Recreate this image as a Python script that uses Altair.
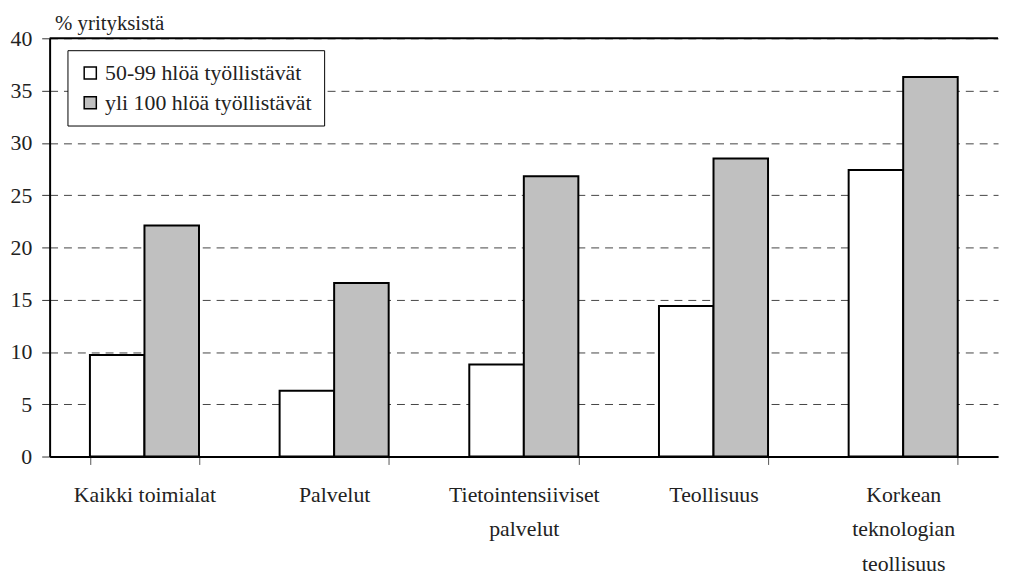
import altair as alt
import pandas as pd

categories = [
    "Kaikki toimialat",
    "Palvelut",
    "Tietointensiiviset|palvelut",
    "Teollisuus",
    "Korkean|teknologian|teollisuus",
]
series = ["50-99 hlöä työllistävät", "yli 100 hlöä työllistävät"]
values_50_99 = [9.7, 6.3, 8.8, 14.4, 27.4]
values_100 = [22.1, 16.6, 26.8, 28.5, 36.3]
y_ticks = [0, 5, 10, 15, 20, 25, 30, 35, 40]
y_title = "% yrityksistä"

rows = []
for c, a, b in zip(categories, values_50_99, values_100):
    rows.append({"ala": c, "ryhma": series[0], "arvo": a})
    rows.append({"ala": c, "ryhma": series[1], "arvo": b})
df = pd.DataFrame(rows)

FONT = "Liberation Serif"

bars = alt.Chart(df).mark_bar(stroke="black", strokeWidth=2).encode(
    x=alt.X(
        "ala:N",
        sort=categories,
        scale=alt.Scale(paddingInner=0.425, paddingOuter=0.2125),
        axis=alt.Axis(
            title=None,
            labelAngle=0,
            labelExpr="split(datum.label, '|')",
            labelFont=FONT,
            labelFontSize=22,
            labelLineHeight=35,
            labelPadding=20,
            labelBaseline="top",
            labelLimit=400,
            tickSize=8,
            tickColor="#555555",
            tickBand="extent",
            domainColor="black",
            domainWidth=2,
            grid=False,
        ),
    ),
    xOffset=alt.XOffset("ryhma:N", sort=series, scale=alt.Scale(paddingInner=0, paddingOuter=0)),
    y=alt.Y(
        "arvo:Q",
        scale=alt.Scale(domain=[0, 40], nice=False),
        axis=alt.Axis(
            values=y_ticks,
            title=y_title,
            titleAngle=0,
            titleAlign="left",
            titleBaseline="alphabetic",
            titleX=5,
            titleY=-9,
            titleFont=FONT,
            titleFontSize=21,
            labelFont=FONT,
            labelFontSize=22,
            labelPadding=10,
            tickSize=8,
            tickColor="#333333",
            domainColor="black",
            domainWidth=2,
            gridDash=[8, 6],
            gridColor="#444444",
            gridWidth=1,
            minExtent=40,
            maxExtent=40,
        ),
    ),
    fill=alt.Fill(
        "ryhma:N",
        sort=series,
        scale=alt.Scale(domain=series, range=["white", "#c0c0c0"]),
        legend=alt.Legend(
            title=None,
            orient="none",
            legendX=18,
            legendY=12,
            fillColor="white",
            strokeColor="black",
            padding=12,
            cornerRadius=0,
            labelFont=FONT,
            labelFontSize=22,
            labelLimit=500,
            symbolType="square",
            symbolSize=150,
            symbolStrokeColor="black",
            symbolStrokeWidth=1.5,
            rowPadding=8,
        ),
    ),
)

top_line = alt.Chart(pd.DataFrame({"y": [y_ticks[-1]]})).mark_rule(
    color="black", strokeWidth=2
).encode(y="y:Q")

chart = (
    alt.layer(bars, top_line)
    .properties(width=957, height=422, padding=2)
    .configure(font=FONT)
    .configure_axis(labelColor="#222222", titleColor="#222222", titleFontWeight="normal")
    .configure_legend(labelColor="#222222")
    .configure_view(strokeWidth=0)
)

chart.save("out.html", embed_options={"renderer": "svg", "actions": False})
